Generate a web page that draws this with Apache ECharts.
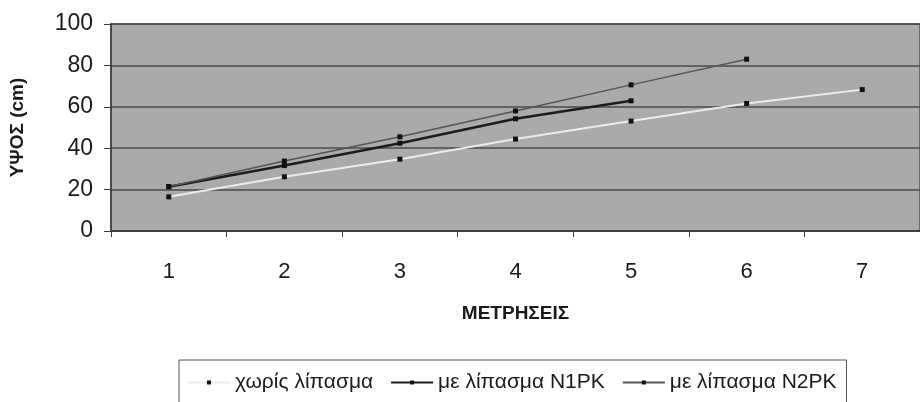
<!DOCTYPE html>
<html>
<head>
<meta charset="utf-8">
<script src="https://cdn.jsdelivr.net/npm/echarts@6/dist/echarts.min.js"></script>
<style>
  html, body { margin: 0; padding: 0; background: #ffffff; }
  #chart { width: 920px; height: 402px; }
</style>
</head>
<body>
<div id="chart"></div>
<script>
// Μετρήσεις (measurement number) on the x axis
const measurements = ['1', '2', '3', '4', '5', '6', '7'];

// Plant height (cm) per measurement for each treatment
const noFertilizer = [16.5, 26.2, 34.7, 44.4, 53.1, 61.6, 68.3];
const n1pk = [21.4, 31.6, 42.4, 54.2, 62.9, null, null];
const n2pk = [21.4, 33.8, 45.5, 58.0, 70.6, 83.0, null];

const seriesNames = ['χωρίς λίπασμα', 'με λίπασμα N1PK', 'με λίπασμα N2PK'];

const FONT = '"Liberation Sans", Arial, sans-serif';

const chart = echarts.init(document.getElementById('chart'), null, { renderer: 'canvas' });

function lineSeries(name, data, lineColor, width) {
  return {
    name: name,
    type: 'line',
    data: data,
    symbol: 'rect',
    symbolSize: 5,
    showSymbol: true,
    connectNulls: false,
    animation: false,
    lineStyle: { color: lineColor, width: width },
    itemStyle: { color: '#111111' },
    emphasis: { disabled: true }
  };
}

chart.setOption({
  backgroundColor: '#ffffff',
  animation: false,
  grid: {
    left: 111,
    top: 24,
    width: 815,
    height: 207,
    show: true,
    backgroundColor: '#aaaaaa',
    borderColor: '#5a5a5a',
    borderWidth: 1.5
  },
  xAxis: {
    type: 'category',
    data: measurements,
    boundaryGap: true,
    name: 'ΜΕΤΡΗΣΕΙΣ',
    nameLocation: 'middle',
    nameGap: 73,
    nameTextStyle: { fontFamily: FONT, fontWeight: 'bold', fontSize: 19, color: '#1a1a1a' },
    axisLine: { show: true, lineStyle: { color: '#3a3a3a', width: 1.5 } },
    axisTick: { show: true, inside: false, length: 6, alignWithLabel: false, lineStyle: { color: '#3a3a3a' } },
    axisLabel: { fontFamily: FONT, fontSize: 22, color: '#1a1a1a', margin: 30 },
    splitLine: { show: false }
  },
  yAxis: {
    type: 'value',
    min: 0,
    max: 100,
    interval: 20,
    name: 'ΥΨΟΣ (cm)',
    nameLocation: 'middle',
    nameRotate: 90,
    nameGap: 84,
    nameTextStyle: { fontFamily: FONT, fontWeight: 'bold', fontSize: 19, color: '#1a1a1a' },
    axisLine: { show: true, lineStyle: { color: '#3a3a3a', width: 1.5 } },
    axisTick: { show: true, inside: false, length: 7, lineStyle: { color: '#3a3a3a' } },
    axisLabel: { fontFamily: FONT, fontSize: 23, color: '#1a1a1a', margin: 18 },
    splitLine: { show: true, lineStyle: { color: '#4a4a4a', width: 1.5 } }
  },
  legend: {
    left: 179,
    top: 360,
    orient: 'horizontal',
    backgroundColor: '#ffffff',
    borderColor: '#555555',
    borderWidth: 1,
    padding: [12, 10, 20, 8],
    itemGap: 17,
    itemWidth: 42,
    itemHeight: 5,
    textStyle: { fontFamily: FONT, fontSize: 21, color: '#1a1a1a' },
    data: seriesNames
  },
  series: [
    lineSeries(seriesNames[0], noFertilizer, '#ececec', 2),
    lineSeries(seriesNames[1], n1pk, '#1c1c1c', 2.5),
    lineSeries(seriesNames[2], n2pk, '#555555', 1.5)
  ]
});
</script>
</body>
</html>
